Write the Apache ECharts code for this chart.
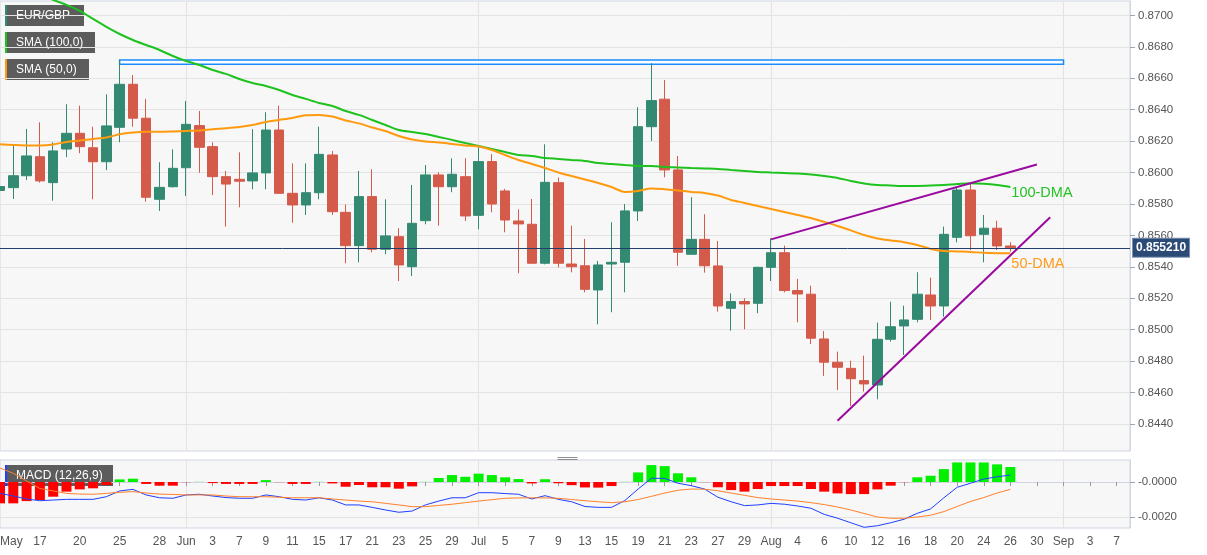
<!DOCTYPE html>
<html><head><meta charset="utf-8">
<script src="https://cdn.jsdelivr.net/npm/echarts@6/dist/echarts.min.js"></script>
<style>html,body{margin:0;padding:0;background:#fff}#c{width:1207px;height:555px}</style>
</head><body><div id="c"></div><script>
// ---- categories (trading days) ----
const categories = [
'2021-05-12','2021-05-13','2021-05-14','2021-05-17','2021-05-18','2021-05-19','2021-05-20','2021-05-21','2021-05-24','2021-05-25','2021-05-26','2021-05-27','2021-05-28','2021-05-31',
'2021-06-01','2021-06-02','2021-06-03','2021-06-04','2021-06-07','2021-06-08','2021-06-09','2021-06-10','2021-06-11','2021-06-14','2021-06-15','2021-06-16','2021-06-17','2021-06-18','2021-06-21','2021-06-22','2021-06-23','2021-06-24','2021-06-25','2021-06-28','2021-06-29','2021-06-30',
'2021-07-01','2021-07-02','2021-07-05','2021-07-06','2021-07-07','2021-07-08','2021-07-09','2021-07-12','2021-07-13','2021-07-14','2021-07-15','2021-07-16','2021-07-19','2021-07-20','2021-07-21','2021-07-22','2021-07-23','2021-07-26','2021-07-27','2021-07-28','2021-07-29','2021-07-30',
'2021-08-02','2021-08-03','2021-08-04','2021-08-05','2021-08-06','2021-08-09','2021-08-10','2021-08-11','2021-08-12','2021-08-13','2021-08-16','2021-08-17','2021-08-18','2021-08-19','2021-08-20','2021-08-23','2021-08-24','2021-08-25','2021-08-26','2021-08-27','2021-08-30','2021-08-31',
'2021-09-01','2021-09-02','2021-09-03','2021-09-06','2021-09-07','2021-09-08'];

// ---- EUR/GBP daily OHLC ----
const opens = [0.85886,0.85904,0.85980,0.86101,0.85936,0.86150,0.86250,0.86158,0.86069,0.86288,
0.86562,0.86346,0.85830,0.85910,0.86031,0.86299,0.86165,0.85974,0.85957,0.85947,
0.85998,0.86271,0.85868,0.85794,0.85872,0.86112,0.85747,0.85535,0.85847,0.85512,
0.85592,0.85401,0.85694,0.85985,0.85910,0.85974,0.85728,0.86070,0.85883,0.85692,
0.85671,0.85423,0.85936,0.85418,0.85407,0.85253,0.85418,0.85429,0.85756,0.86292,
0.86467,0.86017,0.85480,0.85575,0.85406,0.85136,0.85179,0.85168,0.85397,0.85490,
0.85249,0.85226,0.84941,0.84793,0.84754,0.84676,0.84648,0.84939,0.85024,0.85066,
0.85221,0.85151,0.85588,0.85889,0.85607,0.85646,0.85533];
const closes = [0.85911,0.85980,0.86106,0.85947,0.86138,0.86250,0.86165,0.86069,0.86297,0.86562,
0.86346,0.85843,0.85906,0.86027,0.86307,0.86161,0.85974,0.85927,0.85945,0.85998,
0.86271,0.85868,0.85794,0.85872,0.86116,0.85751,0.85535,0.85847,0.85512,0.85597,
0.85412,0.85677,0.85985,0.85910,0.85989,0.85724,0.86070,0.85800,0.85698,0.85673,
0.85423,0.85938,0.85423,0.85401,0.85257,0.85412,0.85429,0.85756,0.86292,0.86458,
0.86017,0.85493,0.85575,0.85407,0.85151,0.85179,0.85164,0.85397,0.85490,0.85249,
0.85227,0.84946,0.84793,0.84761,0.84688,0.84655,0.84939,0.85019,0.85062,0.85226,
0.85151,0.85607,0.85889,0.85598,0.85646,0.85533,0.85521];
const lows = [0.85619,0.85832,0.85953,0.85936,0.85821,0.86098,0.86123,0.85830,0.86016,0.86193,
0.86292,0.85815,0.85756,0.85905,0.85851,0.85999,0.85857,0.85656,0.85779,0.85894,
0.85894,0.85865,0.85681,0.85730,0.85830,0.85730,0.85423,0.85429,0.85493,0.85480,
0.85310,0.85342,0.85671,0.85662,0.85875,0.85692,0.85639,0.85747,0.85620,0.85359,
0.85420,0.85416,0.85397,0.85365,0.85238,0.85034,0.85111,0.85238,0.85692,0.86201,
0.85970,0.85407,0.85476,0.85363,0.85115,0.84994,0.85003,0.85105,0.85310,0.85238,
0.85047,0.84909,0.84706,0.84616,0.84514,0.84606,0.84557,0.84924,0.84839,0.85047,
0.85062,0.85083,0.85556,0.85507,0.85429,0.85507,0.85497];
const highs = [0.85975,0.86171,0.86278,0.86320,0.86193,0.86435,0.86426,0.86292,0.86498,0.86717,
0.86621,0.86469,0.86066,0.86148,0.86456,0.86392,0.86193,0.86010,0.86129,0.86276,
0.86384,0.86426,0.86059,0.86059,0.86292,0.86138,0.85797,0.86010,0.86021,0.85830,
0.85646,0.85921,0.86048,0.86002,0.86091,0.86091,0.86165,0.86118,0.85896,0.85766,
0.85832,0.86180,0.85968,0.85662,0.85578,0.85438,0.85684,0.85800,0.86416,0.86696,
0.86589,0.86106,0.85843,0.85735,0.85565,0.85232,0.85200,0.85400,0.85582,0.85535,
0.85323,0.85280,0.84992,0.84860,0.84803,0.84835,0.85045,0.85178,0.85153,0.85366,
0.85331,0.85656,0.85904,0.85932,0.85730,0.85694,0.85557];

// ---- moving averages ----
const sma100 = [0.87239,0.87201,0.87169,0.87131,0.87099,0.87067,0.87029,0.86978,0.86927,0.86882,
0.86844,0.86812,0.86780,0.86742,0.86710,0.86685,0.86653,0.86628,0.86596,0.86570,
0.86551,0.86526,0.86494,0.86469,0.86443,0.86424,0.86392,0.86367,0.86335,0.86303,
0.86271,0.86258,0.86246,0.86227,0.86208,0.86188,0.86169,0.86150,0.86131,0.86112,
0.86106,0.86093,0.86087,0.86080,0.86074,0.86061,0.86055,0.86048,0.86042,0.86042,
0.86036,0.86033,0.86029,0.86026,0.86023,0.86016,0.86010,0.86004,0.86001,0.85998,
0.85994,0.85988,0.85978,0.85966,0.85947,0.85931,0.85921,0.85918,0.85915,0.85915,
0.85917,0.85921,0.85927,0.85932,0.85929,0.85921,0.85908];
const sma50 = [0.86180,0.86176,0.86173,0.86173,0.86179,0.86195,0.86204,0.86214,0.86223,0.86244,
0.86255,0.86260,0.86260,0.86262,0.86265,0.86268,0.86276,0.86282,0.86290,0.86303,
0.86322,0.86335,0.86348,0.86365,0.86367,0.86357,0.86332,0.86313,0.86287,0.86265,
0.86233,0.86211,0.86198,0.86192,0.86182,0.86173,0.86166,0.86144,0.86112,0.86080,
0.86055,0.86029,0.86001,0.85978,0.85956,0.85934,0.85908,0.85877,0.85883,0.85899,
0.85894,0.85886,0.85877,0.85870,0.85854,0.85826,0.85807,0.85787,0.85768,0.85749,
0.85730,0.85711,0.85686,0.85660,0.85632,0.85603,0.85581,0.85568,0.85557,0.85539,
0.85514,0.85501,0.85498,0.85495,0.85489,0.85487,0.85487];

// ---- MACD (12,26,9) ----
const macdHist = [-0.00122,-0.00122,-0.00109,-0.00103,-0.00084,-0.00055,-0.00042,-0.00036,-0.00017,0.00015,
0.00019,-0.00011,-0.00021,-0.00021,-0.00001,0.00001,-0.00006,-0.00011,-0.00011,-0.00011,
0.00011,-0.00001,-0.00011,-0.00011,0.00001,-0.00008,-0.00027,-0.00017,-0.00030,-0.00030,
-0.00038,-0.00025,0.00001,0.00023,0.00040,0.00030,0.00048,0.00040,0.00027,0.00017,
-0.00008,0.00016,-0.00007,-0.00018,-0.00031,-0.00032,-0.00023,0.00001,0.00055,0.00097,
0.00091,0.00050,0.00027,-0.00001,-0.00030,-0.00046,-0.00055,-0.00040,-0.00023,-0.00023,
-0.00023,-0.00040,-0.00055,-0.00065,-0.00069,-0.00069,-0.00042,-0.00021,-0.00001,0.00027,
0.00036,0.00074,0.00112,0.00112,0.00112,0.00101,0.00086];
const macdLine = [-0.00065,-0.00080,-0.00097,-0.00107,-0.00103,-0.00099,-0.00099,-0.00099,-0.00084,-0.00051,
-0.00042,-0.00074,-0.00090,-0.00093,-0.00074,-0.00070,-0.00080,-0.00089,-0.00093,-0.00093,
-0.00074,-0.00084,-0.00099,-0.00103,-0.00090,-0.00103,-0.00131,-0.00131,-0.00145,-0.00160,
-0.00173,-0.00166,-0.00131,-0.00109,-0.00090,-0.00090,-0.00061,-0.00061,-0.00066,-0.00070,
-0.00097,-0.00078,-0.00099,-0.00113,-0.00140,-0.00145,-0.00145,-0.00106,-0.00040,0.00021,
0.00021,-0.00007,-0.00021,-0.00040,-0.00087,-0.00113,-0.00135,-0.00131,-0.00122,-0.00127,
-0.00137,-0.00150,-0.00185,-0.00207,-0.00233,-0.00259,-0.00250,-0.00233,-0.00213,-0.00179,
-0.00154,-0.00090,-0.00030,-0.00007,0.00017,0.00030,0.00040];
const signalLine = [0.00080,0.00050,0.00006,-0.00037,-0.00051,-0.00065,-0.00069,-0.00070,-0.00065,-0.00059,
-0.00055,-0.00063,-0.00069,-0.00071,-0.00074,-0.00074,-0.00074,-0.00080,-0.00084,-0.00084,
-0.00084,-0.00087,-0.00090,-0.00090,-0.00090,-0.00097,-0.00103,-0.00109,-0.00113,-0.00122,
-0.00131,-0.00141,-0.00141,-0.00134,-0.00127,-0.00118,-0.00109,-0.00101,-0.00093,-0.00091,
-0.00090,-0.00091,-0.00093,-0.00100,-0.00107,-0.00113,-0.00118,-0.00113,-0.00100,-0.00082,
-0.00063,-0.00047,-0.00040,-0.00041,-0.00050,-0.00063,-0.00076,-0.00089,-0.00097,-0.00103,
-0.00109,-0.00118,-0.00129,-0.00143,-0.00160,-0.00180,-0.00200,-0.00207,-0.00207,-0.00200,
-0.00190,-0.00169,-0.00140,-0.00111,-0.00089,-0.00063,-0.00042];

// ---- annotations ----
const upperTrend = [['2021-08-02', 0.85575], ['2021-08-30', 0.86051]];
const lowerTrend = [['2021-08-09', 0.84420], ['2021-08-31', 0.85716]];
const zoneFrom = '2021-05-25', zoneTo = '2021-09-01', zoneLow = 0.86690, zoneHigh = 0.86717;
const lastPrice = 0.85521;

// ---- ticks ----
const priceTicks = [0.8440,0.8460,0.8480,0.8500,0.8520,0.8540,0.8560,0.8580,0.8600,0.8620,0.8640,0.8660,0.8680,0.8700];
const macdTicks = [0, -0.002];
const macdTickLabels = ['-0.0000', '-0.0020'];
const xTickDates = ['2021-05-12','2021-05-17','2021-05-20','2021-05-25','2021-05-28','2021-06-01','2021-06-03','2021-06-07','2021-06-09','2021-06-11','2021-06-15','2021-06-17','2021-06-21','2021-06-23','2021-06-25','2021-06-29','2021-07-01','2021-07-05','2021-07-07','2021-07-09','2021-07-13','2021-07-15','2021-07-19','2021-07-21','2021-07-23','2021-07-27','2021-07-29','2021-08-02','2021-08-04','2021-08-06','2021-08-10','2021-08-12','2021-08-16','2021-08-18','2021-08-20','2021-08-24','2021-08-26','2021-08-30','2021-09-01','2021-09-03','2021-09-07'];
const xTickLabels = ['May','17','20','25','28','Jun','3','7','9','11','15','17','21','23','25','29','Jul','5','7','9','13','15','19','21','23','27','29','Aug','4','6','10','12','16','18','20','24','26','30','Sep','3','7'];
const monthStarts = ['2021-06-01','2021-07-01','2021-08-02','2021-09-01'];

// ---- build ----
const candleData = opens.map((o, i) => [o, closes[i], lows[i], highs[i]]);
const tickMap = {};
xTickDates.forEach((d, i) => { tickMap[d] = xTickLabels[i]; });
const isTick = (i, v) => tickMap[v] !== undefined;
const isMonth = (i, v) => monthStarts.indexOf(v) >= 0;
const FONT = 'Liberation Sans, Arial, sans-serif';
const gridLine = '#e3e3e3';
const frame = '#cfd5e3';

const chart = echarts.init(document.getElementById('c'), null, {renderer: 'canvas'});
const legendBox = (top, w, barColor, text) => ({
  type: 'group', left: 5, top: top, z: 100,
  children: [
    {type: 'rect', shape: {x: 0, y: 0, width: w, height: 21}, style: {fill: 'rgba(25,25,25,0.7)'}},
    {type: 'rect', shape: {x: 0, y: 0, width: 2, height: 21}, style: {fill: barColor}},
    {type: 'text', x: 11, y: 5, style: {text: text, fill: '#ffffff', font: '12px ' + FONT, verticalAlign: 'top'}}
  ]
});

chart.setOption({
  animation: false,
  backgroundColor: '#ffffff',
  textStyle: {fontFamily: FONT},
  grid: [
    {left: 0, right: 77, top: 1, height: 450, show: true, backgroundColor: '#f7f7f7', borderColor: frame, borderWidth: 1, outerBoundsMode: 'none', containLabel: false},
    {left: 0, right: 77, top: 460, height: 68, show: true, backgroundColor: '#f7f7f7', borderColor: frame, borderWidth: 1, outerBoundsMode: 'none', containLabel: false}
  ],
  xAxis: [
    {type: 'category', gridIndex: 0, data: categories, boundaryGap: false,
     axisLine: {show: false}, axisTick: {show: false}, axisLabel: {show: false},
     splitLine: {show: true, interval: isMonth, lineStyle: {color: gridLine, width: 1}}},
    {type: 'category', gridIndex: 1, data: categories, boundaryGap: false,
     axisLine: {show: true, lineStyle: {color: frame}},
     axisTick: {show: true, interval: isTick, length: 4, lineStyle: {color: '#999'}},
     axisLabel: {show: true, interval: isTick, formatter: v => tickMap[v] || '', color: '#555', fontSize: 12, margin: 8, alignMinLabel: 'left', hideOverlap: false},
     splitLine: {show: true, interval: isMonth, lineStyle: {color: gridLine, width: 1}}}
  ],
  yAxis: [
    {type: 'value', gridIndex: 0, position: 'right', min: 0.84228, max: 0.87092, scale: true,
     axisLine: {show: true, lineStyle: {color: frame}},
     axisTick: {show: true, length: 5, customValues: priceTicks, lineStyle: {color: '#9aa3b5'}},
     axisLabel: {show: true, customValues: priceTicks, formatter: v => v.toFixed(4), color: '#555', fontSize: 11.5, margin: 8},
     splitLine: {show: true, lineStyle: {color: gridLine, width: 1}}},
    {type: 'value', gridIndex: 1, position: 'right', min: -0.00263, max: 0.00126,
     axisLine: {show: true, lineStyle: {color: frame}},
     axisTick: {show: true, length: 5, customValues: macdTicks, lineStyle: {color: '#9aa3b5'}},
     axisLabel: {show: true, customValues: macdTicks, formatter: v => macdTickLabels[macdTicks.indexOf(Math.abs(v) < 1e-9 ? 0 : Math.round(v * 1e6) / 1e6)] || '', color: '#555', fontSize: 11.5, margin: 8},
     splitLine: {show: true, lineStyle: {color: gridLine, width: 1}}}
  ],
  series: [
    {type: 'candlestick', name: 'EUR/GBP', xAxisIndex: 0, yAxisIndex: 0, data: candleData, barWidth: 10,
     itemStyle: {color: '#338a72', color0: '#d45a4a', borderColor: '#338a72', borderColor0: '#d45a4a', borderWidth: 1},
     markArea: {silent: true,
       itemStyle: {color: 'rgba(255,255,255,0.8)', borderColor: '#1a8cff', borderWidth: 1.5},
       data: [[{xAxis: zoneFrom, yAxis: zoneHigh}, {xAxis: zoneTo, yAxis: zoneLow}]]}},
    {type: 'line', name: 'SMA (100,0)', xAxisIndex: 0, yAxisIndex: 0, data: sma100, symbol: 'none', smooth: 0.3,
     lineStyle: {color: '#1ec21e', width: 2}, itemStyle: {color: '#1ec21e'},
     endLabel: {show: true, formatter: '100-DMA', color: '#22c322', fontSize: 14.5, distance: 1, offset: [0, 6]}},
    {type: 'line', name: 'SMA (50,0)', xAxisIndex: 0, yAxisIndex: 0, data: sma50, symbol: 'none', smooth: 0.3,
     lineStyle: {color: '#ff9a0e', width: 2}, itemStyle: {color: '#ff9a0e'},
     endLabel: {show: true, formatter: '50-DMA', color: '#ff9a1a', fontSize: 14.5, distance: 1, offset: [0, 11]},
     markLine: {silent: true, symbol: ['none', 'none'], animation: false, precision: 6,
       data: [{yAxis: lastPrice}],
       lineStyle: {color: '#233e6c', width: 1, type: 'solid'},
       label: {show: true, position: 'end', distance: 3, formatter: p => Number(p.value).toFixed(6),
         backgroundColor: '#2b4a76', borderColor: '#7d93b5', borderWidth: 1, color: '#ffffff', fontWeight: 'bold', fontSize: 12, padding: [3, 3, 3, 3]}}},
    {type: 'line', name: 'upper', xAxisIndex: 0, yAxisIndex: 0, data: upperTrend, symbol: 'none',
     lineStyle: {color: '#9b0a9e', width: 2}},
    {type: 'line', name: 'lower', xAxisIndex: 0, yAxisIndex: 0, data: lowerTrend, symbol: 'none',
     lineStyle: {color: '#9b0a9e', width: 2}},
    {type: 'bar', name: 'hist', xAxisIndex: 1, yAxisIndex: 1, data: macdHist, barWidth: 10,
     itemStyle: {color: p => p.value >= 0 ? '#00f000' : '#ff0000'}},
    {type: 'line', name: 'MACD', xAxisIndex: 1, yAxisIndex: 1, data: macdLine, symbol: 'none',
     lineStyle: {color: '#1f3fff', width: 1}},
    {type: 'line', name: 'Signal', xAxisIndex: 1, yAxisIndex: 1, data: signalLine, symbol: 'none',
     lineStyle: {color: '#ff7f2a', width: 1}}
  ],
  graphic: [
    legendBox(5, 79, '#2e8b74', 'EUR/GBP'),
    legendBox(32, 90, '#1ec21e', 'SMA (100,0)'),
    legendBox(59, 84, '#ff9a0e', 'SMA (50,0)'),
    legendBox(465, 108, '#1f3fff', 'MACD (12,26,9)'),
    {type: 'group', left: 555, top: 455, z: 100, children: [
      {type: 'line', shape: {x1: 0, y1: 0.5, x2: 20, y2: 0.5}, style: {stroke: '#8c8c8c', lineWidth: 1}},
      {type: 'line', shape: {x1: 0, y1: 2.5, x2: 20, y2: 2.5}, style: {stroke: '#8c8c8c', lineWidth: 1}}
    ]}
  ]
});
</script></body></html>
